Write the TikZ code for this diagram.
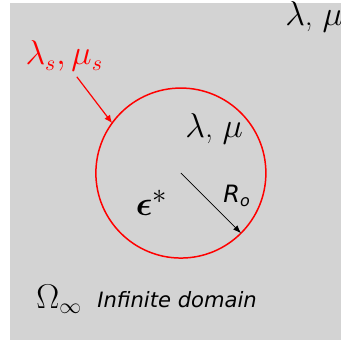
\documentclass[tikz,border=0pt]{standalone}
\usepackage{amsmath,amssymb}
\usepackage{fontspec}
\setsansfont{DejaVu Sans}
\usepackage{xcolor}
\usepackage{tikz}
\usetikzlibrary{arrows.meta,positioning}
\definecolor{domaingray}{RGB}{211,211,211}

\begin{document}
\begin{tikzpicture}[x=0.6cm, y=0.6cm, every node/.style={inner sep=0pt, font=\fontsize{16}{19}\selectfont}]
\useasboundingbox (0,0) rectangle (10,10);
\fill[domaingray] (0.28,0) rectangle (10.5,9.91);
\node[circle, draw=red, line width=0.75pt, minimum size=3cm, outer sep=0pt] (incl) at (5.32,4.91) {};
\node[anchor=base west] (lamout) at (8.38,9.26) {$\lambda$, $\mu$};
\node[anchor=base west] (lamin) at (5.44,5.97) {$\lambda$, $\mu$};
\node[anchor=base west, red] (lams) at (0.74,8.09) {$\lambda_s, \mu_s$};
\coordinate (lamsend) at (2.26,7.74);
\draw[red, line width=0.6pt, -{Latex[length=4pt,width=3.5pt]}] (lamsend) -- (incl.144);
\node[font=\fontsize{19}{22}\selectfont] (eig) at (4.47,4.03) {$\boldsymbol{\epsilon}^*$};
\draw[line width=0.4pt, -{Latex[length=4pt,width=3pt]}] (incl.center) -- (incl.-45);
\node[anchor=base west, font=\fontsize{12}{14}\sffamily\itshape] (rad) at (6.56,4.03) {R\textsubscript{o}};
\node[anchor=base west] (omega) at (1.06,0.94) {$\Omega_\infty$};
\node[anchor=base west, font=\fontsize{10.6}{12}\sffamily\itshape] (dom) at (2.85,0.97) {Infinite domain};
\end{tikzpicture}
\end{document}
